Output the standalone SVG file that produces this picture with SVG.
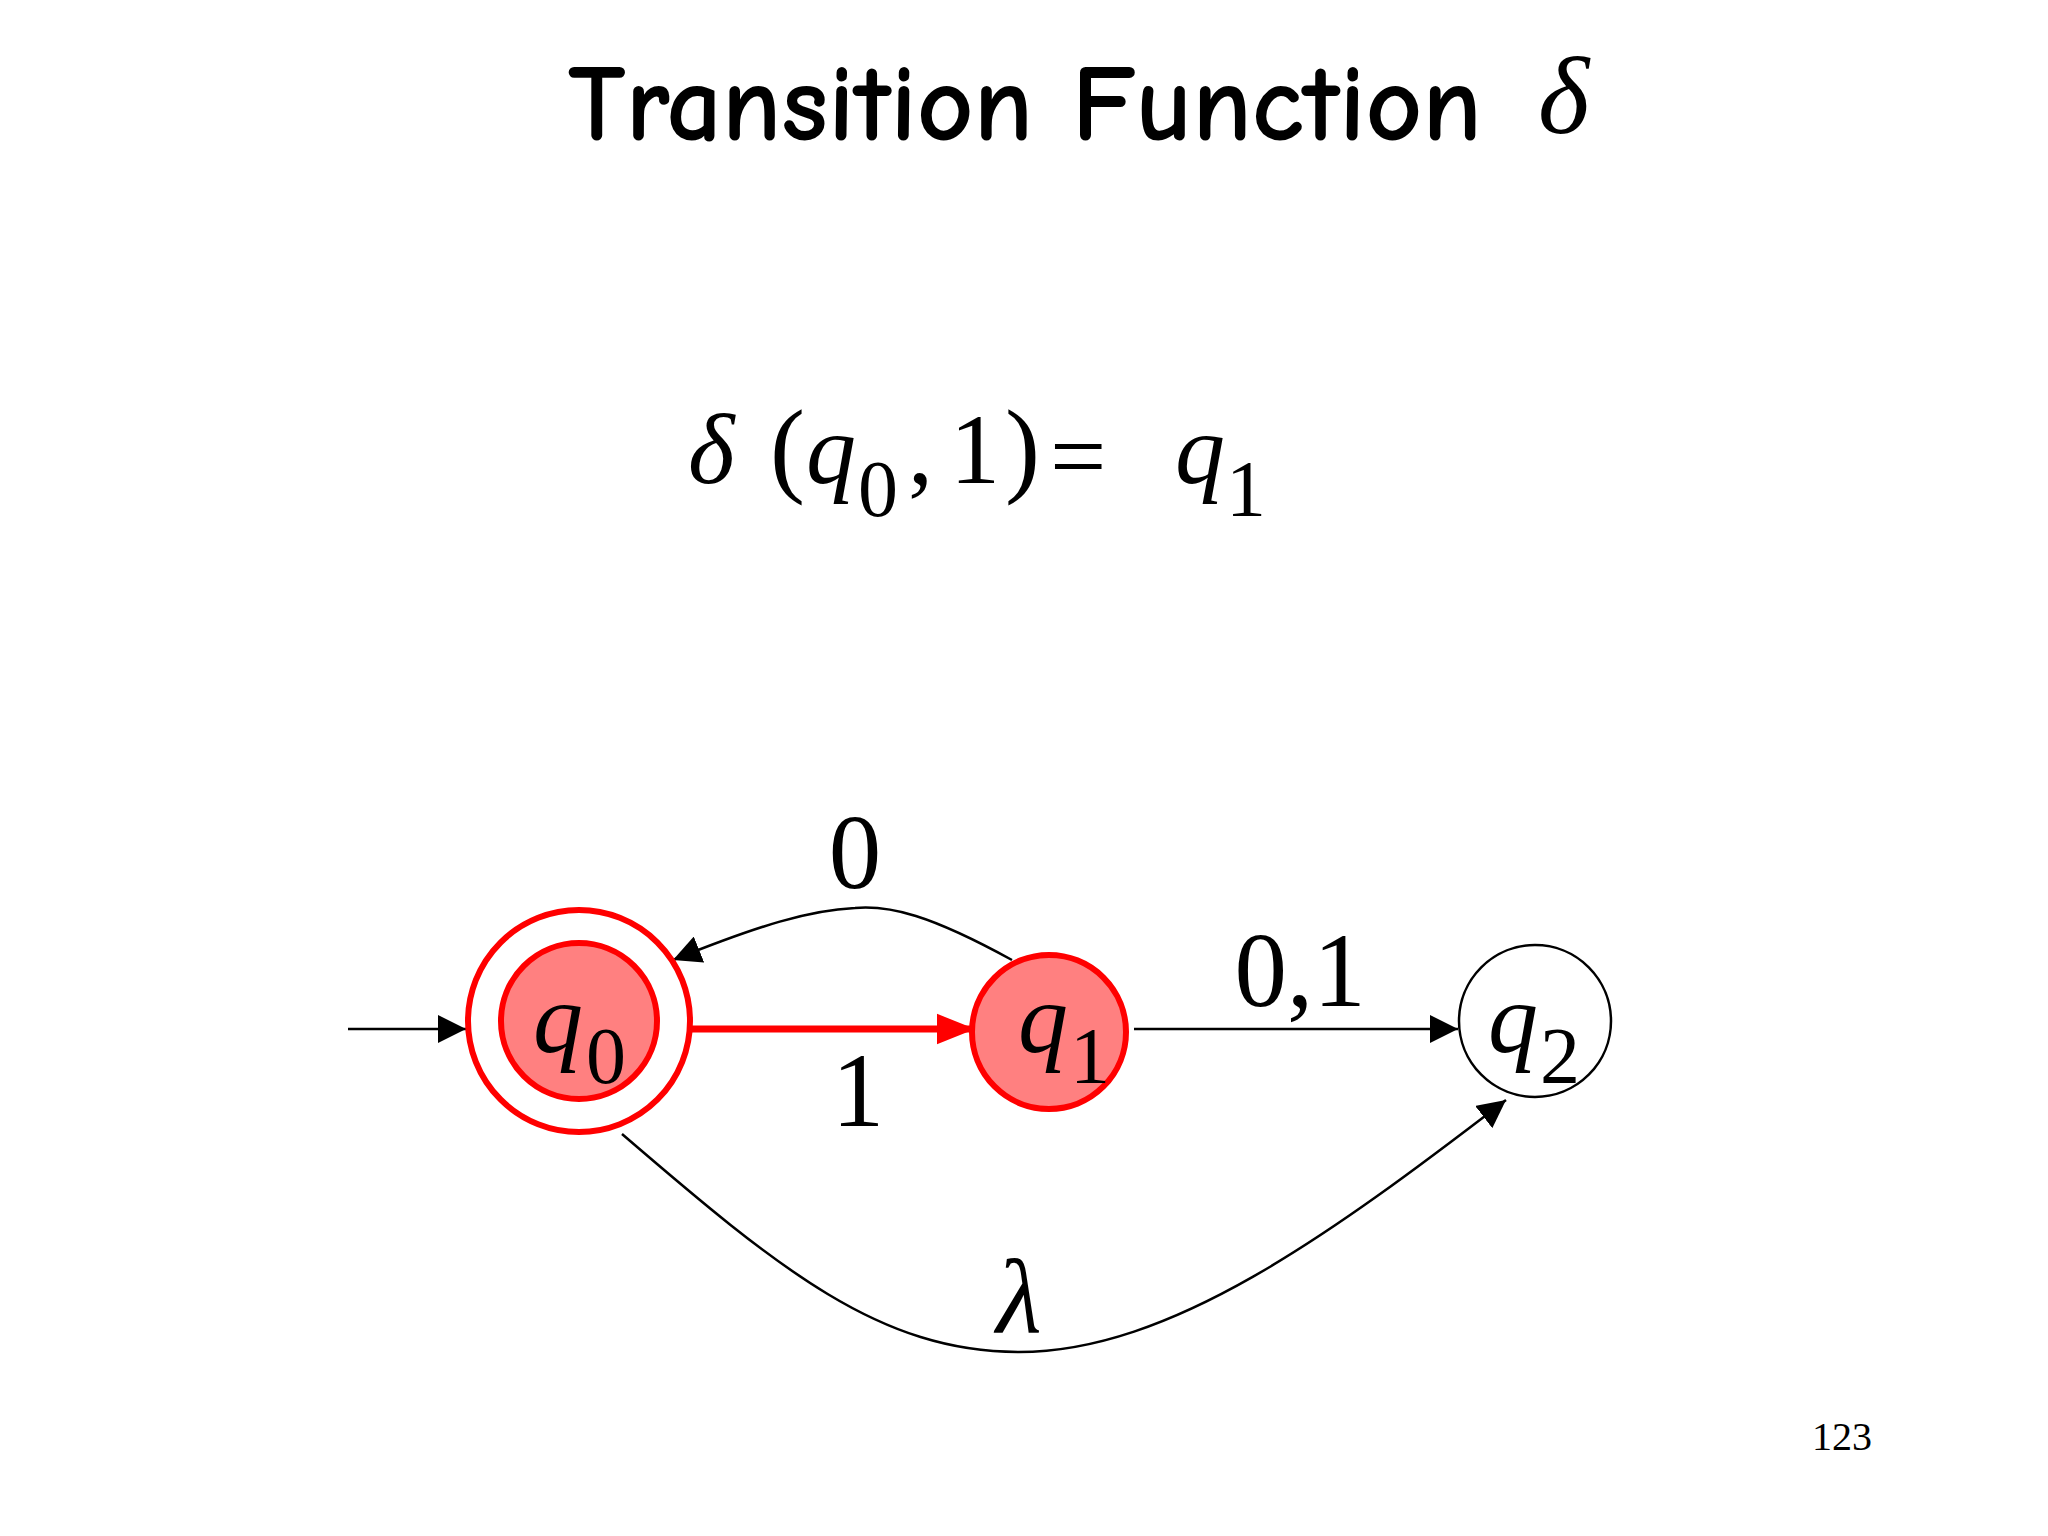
<svg xmlns="http://www.w3.org/2000/svg" width="2048" height="1536" viewBox="0 0 2048 1536">
<style>
.m{font-family:"Liberation Serif","DejaVu Serif",serif;fill:#000}
.i{font-style:italic}
.e{fill:none;stroke:#000;stroke-width:2.5}
</style>
<defs>
<marker id="ab" viewBox="0 0 10 10" refX="10" refY="5" markerWidth="28" markerHeight="28" markerUnits="userSpaceOnUse" orient="auto"><path d="M0,0L10,5L0,10z" fill="#000"/></marker>
<marker id="r" viewBox="0 0 10 10" refX="10" refY="5" markerWidth="38" markerHeight="38" markerUnits="userSpaceOnUse" orient="auto"><path d="M0,1L10,5L0,9z" fill="#f00"/></marker>
</defs>
<rect width="2048" height="1536" fill="#fff"/>
<text x="568" y="140" font-family="'Comic Sans MS','Comic Neue','DejaVu Sans',sans-serif" font-size="110" font-weight="bold" fill="#000" textLength="914">Transition Function</text>
<text x="1538" y="133" class="m i" font-size="110">δ</text>
<g id="formula" class="m" font-size="100">
<text x="688" y="483" class="i">δ</text>
<text x="770" y="483" font-size="105">(</text>
<text x="806" y="483" class="i">q</text><text x="858" y="516" font-size="80">0</text>
<text x="908" y="483">,</text><text x="950" y="483">1</text>
<text x="1005" y="483" font-size="105">)</text>
<text x="1050" y="490">=</text>
<text x="1175" y="483" class="i">q</text><text x="1226" y="516" font-size="80">1</text>
</g>
<g id="edges">
<line class="e" x1="348" y1="1029" x2="466" y2="1029" marker-end="url(#ab)"/>
<line x1="692" y1="1029" x2="975" y2="1029" stroke="#f00" stroke-width="7" marker-end="url(#r)"/>
<line class="e" x1="1134" y1="1029" x2="1458" y2="1029" marker-end="url(#ab)"/>
<path class="e" d="M1012,960 C930,915 890,905 855,908 C810,910 760,925 673,960" marker-end="url(#ab)"/>
<path class="e" d="M622,1134 C780,1270 880,1352 1019,1352 C1170,1352 1330,1235 1506,1100" marker-end="url(#ab)"/>
</g>
<g id="labels" class="m" font-size="105">
<text x="855" y="888" text-anchor="middle">0</text>
<text x="858" y="1126" text-anchor="middle">1</text>
<text x="1300" y="1006" text-anchor="middle">0,1</text>
<text x="1019" y="1332" text-anchor="middle" class="i">λ</text>
</g>
<g id="q0">
<circle cx="579" cy="1021" r="111" fill="#fff" stroke="#f00" stroke-width="6"/>
<circle cx="579" cy="1021" r="78" fill="#ff8080" stroke="#f00" stroke-width="6"/>
<text x="533" y="1052" class="m i" font-size="100">q</text><text x="586" y="1083" class="m" font-size="80">0</text>
</g>
<g id="q1">
<circle cx="1049" cy="1032" r="77" fill="#ff8080" stroke="#f00" stroke-width="6"/>
<text x="1018" y="1052" class="m i" font-size="100">q</text><text x="1070" y="1083" class="m" font-size="80">1</text>
</g>
<g id="q2">
<circle cx="1535" cy="1021" r="76" fill="#fff" stroke="#000" stroke-width="2.5"/>
<text x="1488" y="1052" class="m i" font-size="100">q</text><text x="1540" y="1083" class="m" font-size="80">2</text>
</g>
<text x="1842" y="1450" class="m" font-size="40" text-anchor="middle">123</text>
</svg>
